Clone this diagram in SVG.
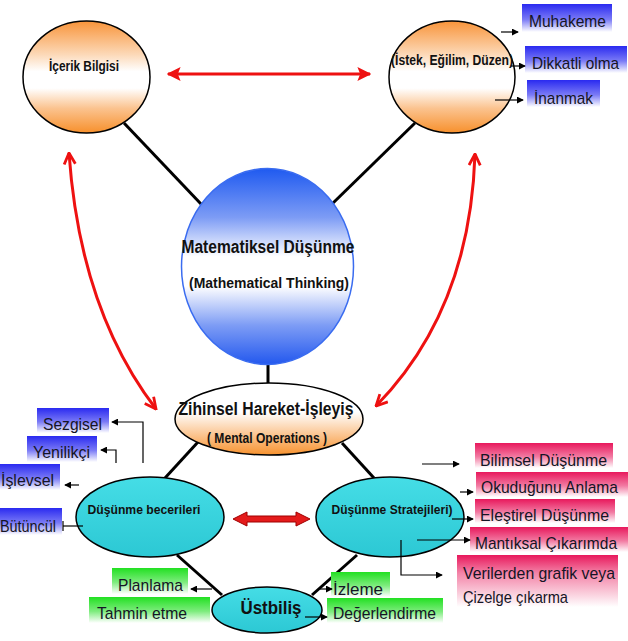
<svg xmlns="http://www.w3.org/2000/svg" width="628" height="641" viewBox="0 0 628 641">
<defs>
<linearGradient id="gOrange" x1="0" y1="0" x2="0" y2="1">
<stop offset="0" stop-color="#f8943a"/><stop offset="0.3" stop-color="#fcd9b8"/><stop offset="0.45" stop-color="#ffffff"/><stop offset="0.6" stop-color="#ffffff"/><stop offset="0.78" stop-color="#fbc38f"/><stop offset="1" stop-color="#f7902c"/>
</linearGradient>
<linearGradient id="gOrange2" x1="0" y1="0" x2="0" y2="1">
<stop offset="0" stop-color="#ffffff"/><stop offset="0.4" stop-color="#ffffff"/><stop offset="1" stop-color="#f7922f"/>
</linearGradient>
<linearGradient id="gBlue" x1="0" y1="0" x2="0" y2="1">
<stop offset="0" stop-color="#1f5af0"/><stop offset="0.25" stop-color="#7d9cf5"/><stop offset="0.45" stop-color="#ffffff"/><stop offset="0.6" stop-color="#ffffff"/><stop offset="0.8" stop-color="#7d9cf5"/><stop offset="1" stop-color="#2358ee"/>
</linearGradient>
<linearGradient id="gCyan" x1="0" y1="0" x2="0" y2="1">
<stop offset="0" stop-color="#45dde6"/><stop offset="1" stop-color="#2cc8d4"/>
</linearGradient>
<linearGradient id="gLblBlue" x1="0" y1="0" x2="0" y2="1">
<stop offset="0" stop-color="#2a2af0"/><stop offset="0.55" stop-color="#7a7af6"/><stop offset="1" stop-color="#ffffff"/>
</linearGradient>
<linearGradient id="gLblGreen" x1="0" y1="0" x2="0" y2="1">
<stop offset="0" stop-color="#22e022"/><stop offset="0.55" stop-color="#7eec7e"/><stop offset="1" stop-color="#ffffff"/>
</linearGradient>
<linearGradient id="gLblPink" x1="0" y1="0" x2="0" y2="1">
<stop offset="0" stop-color="#e8185c"/><stop offset="0.55" stop-color="#f27aa2"/><stop offset="1" stop-color="#ffffff"/>
</linearGradient>
<linearGradient id="gLblPinkTall" x1="0" y1="0" x2="0" y2="1">
<stop offset="0" stop-color="#e8185c"/><stop offset="0.35" stop-color="#f384a8"/><stop offset="1" stop-color="#ffffff"/>
</linearGradient>
<marker id="aBlack" viewBox="0 0 8 8" refX="7" refY="4" markerWidth="7" markerHeight="7" markerUnits="userSpaceOnUse" orient="auto">
<path d="M0,0 L8,4 L0,8 z" fill="#000"/>
</marker>
<marker id="aRedFill" viewBox="0 0 10 10" refX="9" refY="5" markerWidth="14" markerHeight="14" markerUnits="userSpaceOnUse" orient="auto-start-reverse">
<path d="M0,0 L10,5 L0,10 L2,5 z" fill="#ee1111"/>
</marker>
<marker id="aRedOpen" viewBox="0 0 10 10" refX="9" refY="5" markerWidth="14" markerHeight="14" markerUnits="userSpaceOnUse" orient="auto-start-reverse">
<path d="M1,1 L9,5 L1,9" fill="none" stroke="#ee1111" stroke-width="2"/>
</marker>
</defs>
<style>
.bold{font-family:"Liberation Sans",Arial,sans-serif;font-weight:bold;fill:#111;text-anchor:middle}
.lbl{font-family:"Liberation Sans",Arial,sans-serif;font-size:17px;fill:#151525}
.thick{stroke:#000;stroke-width:3;fill:none}
.ar{stroke:#000;stroke-width:1.2;fill:none;marker-end:url(#aBlack)}
.red{stroke:#ee1111;stroke-width:3;fill:none}
</style>
<rect width="628" height="641" fill="#fff"/>

<g id="connectors-back">
<line class="thick" x1="124" y1="123" x2="201" y2="204"/>
<line class="thick" x1="415" y1="123" x2="332" y2="204"/>
<line class="thick" x1="268" y1="364" x2="268" y2="384"/>
<line class="thick" x1="198" y1="442" x2="165" y2="478"/>
<line class="thick" x1="342" y1="443" x2="374" y2="478"/>
<line class="thick" x1="177" y1="555" x2="222" y2="595"/>
<line class="thick" x1="357" y1="555" x2="312" y2="595"/>
</g>

<g id="n-icerik">
<ellipse cx="86.5" cy="77" rx="63.5" ry="56" fill="url(#gOrange)" stroke="#000" stroke-width="1.5"/>
<text class="bold" x="84" y="71" font-size="14" textLength="70" lengthAdjust="spacingAndGlyphs">İçerik Bilgisi</text>
</g>
<g id="n-istek">
<ellipse cx="452" cy="77" rx="63" ry="56" fill="url(#gOrange)" stroke="#000" stroke-width="1.5"/>
<text class="bold" x="452" y="65" font-size="14" textLength="122" lengthAdjust="spacingAndGlyphs">(İstek, Eğilim, Düzen)</text>
</g>
<g id="n-matematiksel">
<ellipse cx="267.5" cy="266.5" rx="86" ry="98" fill="url(#gBlue)" stroke="#3a6cf0" stroke-width="1.5"/>
<text class="bold" x="268" y="253" font-size="18" textLength="173" lengthAdjust="spacingAndGlyphs">Matematiksel Düşünme</text>
<text class="bold" x="269" y="288" font-size="15" textLength="160" lengthAdjust="spacingAndGlyphs">(Mathematical Thinking)</text>
</g>
<g id="n-zihinsel">
<ellipse cx="269" cy="419" rx="94" ry="36" fill="url(#gOrange2)" stroke="#000" stroke-width="1.5"/>
<text class="bold" x="266" y="415" font-size="18" textLength="175" lengthAdjust="spacingAndGlyphs">Zihinsel Hareket-İşleyiş</text>
<text class="bold" x="267" y="443" font-size="14" textLength="120" lengthAdjust="spacingAndGlyphs">( Mental Operations )</text>
</g>
<g id="n-beceriler">
<ellipse cx="150" cy="517" rx="74" ry="40" fill="url(#gCyan)" stroke="#000" stroke-width="1.5"/>
<text class="bold" x="144" y="514" font-size="13.5" textLength="113" lengthAdjust="spacingAndGlyphs">Düşünme becerileri</text>
</g>
<g id="n-stratejiler">
<ellipse cx="390" cy="517" rx="74" ry="40" fill="url(#gCyan)" stroke="#000" stroke-width="1.5"/>
<text class="bold" x="392" y="514" font-size="13.5" textLength="121" lengthAdjust="spacingAndGlyphs">Düşünme Stratejileri)</text>
</g>
<g id="n-ustbilis">
<ellipse cx="267" cy="610" rx="55" ry="23" fill="url(#gCyan)" stroke="#000" stroke-width="1.5"/>
<text class="bold" x="271" y="614" font-size="18" textLength="61" lengthAdjust="spacingAndGlyphs">Üstbiliş</text>
</g>

<g id="l-muhakeme"><rect x="522" y="4" width="90" height="28" fill="url(#gLblBlue)"/><text class="lbl" x="529" y="27" textLength="77" lengthAdjust="spacingAndGlyphs">Muhakeme</text></g>
<g id="l-dikkatli"><rect x="525" y="46" width="102" height="27" fill="url(#gLblBlue)"/><text class="lbl" x="532" y="69" textLength="87" lengthAdjust="spacingAndGlyphs">Dikkatli olma</text></g>
<g id="l-inanmak"><rect x="527" y="80" width="73" height="27" fill="url(#gLblBlue)"/><text class="lbl" x="534" y="104" textLength="59" lengthAdjust="spacingAndGlyphs">İnanmak</text></g>

<g id="l-sezgisel"><rect x="37" y="408" width="72" height="25" fill="url(#gLblBlue)"/><text class="lbl" x="43" y="430" textLength="59" lengthAdjust="spacingAndGlyphs">Sezgisel</text></g>
<g id="l-yenilikci"><rect x="27" y="436" width="70" height="26" fill="url(#gLblBlue)"/><text class="lbl" x="33" y="458" textLength="57" lengthAdjust="spacingAndGlyphs">Yenilikçi</text></g>
<g id="l-islevsel"><rect x="0" y="464" width="60" height="26" fill="url(#gLblBlue)"/><text class="lbl" x="1" y="486" textLength="53" lengthAdjust="spacingAndGlyphs">İşlevsel</text></g>
<g id="l-butuncul"><rect x="0" y="508" width="62" height="27" fill="url(#gLblBlue)"/><text class="lbl" x="0" y="532" textLength="56" lengthAdjust="spacingAndGlyphs">Bütüncül</text></g>

<g id="l-planlama"><rect x="112" y="568" width="76" height="26" fill="url(#gLblGreen)"/><text class="lbl" x="118" y="591" textLength="65" lengthAdjust="spacingAndGlyphs">Planlama</text></g>
<g id="l-tahmin"><rect x="89" y="597" width="121" height="26" fill="url(#gLblGreen)"/><text class="lbl" x="97" y="619" textLength="90" lengthAdjust="spacingAndGlyphs">Tahmin etme</text></g>
<g id="l-izleme"><rect x="331" y="572" width="59" height="25" fill="url(#gLblGreen)"/><text class="lbl" x="333" y="595" textLength="50" lengthAdjust="spacingAndGlyphs">İzleme</text></g>
<g id="l-degerlendirme"><rect x="327" y="598" width="116" height="25" fill="url(#gLblGreen)"/><text class="lbl" x="333" y="619" textLength="103" lengthAdjust="spacingAndGlyphs">Değerlendirme</text></g>

<g id="l-verilerden"><rect x="457" y="555" width="161" height="52" fill="url(#gLblPinkTall)"/><text class="lbl" x="463" y="579" textLength="152" lengthAdjust="spacingAndGlyphs">Verilerden grafik veya</text><text class="lbl" x="463" y="603" textLength="105" lengthAdjust="spacingAndGlyphs">Çizelge çıkarma</text></g>
<g id="l-mantiksal"><rect x="470" y="527" width="158" height="25" fill="url(#gLblPink)"/><text class="lbl" x="475" y="549" font-size="15.5" textLength="142" lengthAdjust="spacingAndGlyphs">Mantıksal Çıkarımda</text></g>
<g id="l-elestirel"><rect x="475" y="499" width="140" height="24" fill="url(#gLblPink)"/><text class="lbl" x="480" y="521" textLength="129" lengthAdjust="spacingAndGlyphs">Eleştirel Düşünme</text></g>
<g id="l-okudugunu"><rect x="476" y="472" width="152" height="25" fill="url(#gLblPink)"/><text class="lbl" x="481" y="493" font-size="15.5" textLength="137" lengthAdjust="spacingAndGlyphs">Okuduğunu Anlama</text></g>
<g id="l-bilimsel"><rect x="475" y="443" width="138" height="25" fill="url(#gLblPink)"/><text class="lbl" x="480" y="466" textLength="127" lengthAdjust="spacingAndGlyphs">Bilimsel Düşünme</text></g>

<g id="connectors">
<line class="red" x1="168" y1="74" x2="370" y2="74" marker-start="url(#aRedFill)" marker-end="url(#aRedFill)"/>
<path class="red" d="M69,153 Q80,310 156,409" marker-start="url(#aRedOpen)" marker-end="url(#aRedOpen)"/>
<path class="red" d="M475,154 Q470,310 376,406" marker-start="url(#aRedOpen)" marker-end="url(#aRedOpen)"/>
<polygon points="233,519 247,512 247,516 296,516 296,512 310,519 296,526 296,522 247,522 247,526" fill="#e41b1b" stroke="#a00000" stroke-width="1"/>

<line class="ar" x1="501" y1="32" x2="518" y2="32"/>
<line class="ar" x1="511" y1="66" x2="525" y2="66"/>
<line class="ar" x1="495" y1="100" x2="523" y2="100"/>

<polyline class="ar" points="143,463 143,422 112,422"/>
<polyline class="ar" points="116,463 116,450 101,450"/>
<line class="ar" x1="79" y1="485" x2="65" y2="485"/>
<line stroke="#000" stroke-width="1.2" x1="83" y1="526" x2="63" y2="526"/>
<line stroke="#000" stroke-width="1.2" x1="63" y1="521" x2="63" y2="531"/>

<line class="ar" x1="212" y1="589" x2="191" y2="589"/>
<line class="ar" x1="320" y1="589" x2="332" y2="589"/>
<line class="ar" x1="305" y1="617" x2="327" y2="617"/>

<line class="ar" x1="422" y1="464" x2="459" y2="464"/>
<line class="ar" x1="460" y1="492" x2="473" y2="492"/>
<line class="ar" x1="452" y1="519" x2="473" y2="519"/>
<line class="ar" x1="417" y1="540" x2="470" y2="540"/>
<polyline class="ar" points="401,540 401,575 442,575"/>
</g>
</svg>
